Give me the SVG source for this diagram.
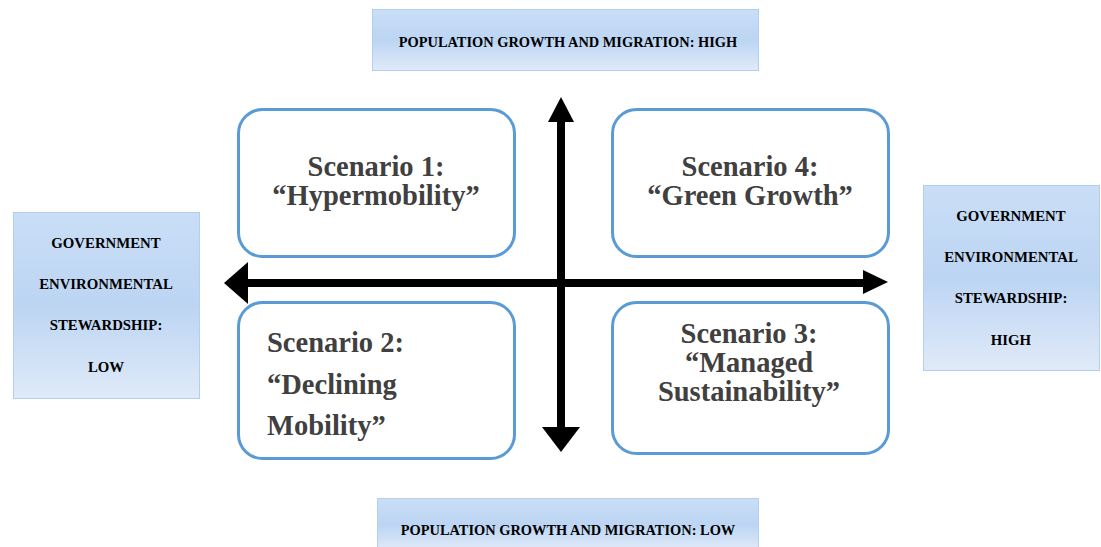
<svg xmlns="http://www.w3.org/2000/svg" width="1101" height="547" viewBox="0 0 1101 547">
<defs>
<linearGradient id="bg" x1="0" y1="0" x2="0" y2="1">
<stop offset="0" stop-color="#cadef6"/>
<stop offset="0.5" stop-color="#bcd5f3"/>
<stop offset="1" stop-color="#e0eaf8"/>
</linearGradient>
<style>
.banner{fill:url(#bg);stroke:#b3cff0;stroke-width:1}
.lbl{font-family:"Liberation Serif","Times New Roman",serif;font-weight:bold;font-size:14.4px;fill:#000;text-anchor:middle}
.side{font-size:14.8px}
.box{fill:#fff;stroke:#5b9bd5;stroke-width:3}
.sc{font-family:"Liberation Serif","Times New Roman",serif;font-weight:bold;font-size:28.5px;fill:#404040;text-anchor:middle}
.st{text-anchor:start}
.arr{fill:#000}
</style>
</defs>
<rect width="1101" height="547" fill="#fff"/>
<g id="top-label">
<rect class="banner" x="372.5" y="9.5" width="386" height="61"/>
<text class="lbl" x="568" y="47">POPULATION GROWTH AND MIGRATION: HIGH</text>
</g>
<g id="bottom-label">
<rect class="banner" x="377.5" y="498.5" width="381" height="52"/>
<text class="lbl" x="568" y="535">POPULATION GROWTH AND MIGRATION: LOW</text>
</g>
<g id="left-label">
<rect class="banner" x="13.5" y="212.5" width="186" height="186"/>
<text class="lbl side" x="106" y="248">GOVERNMENT</text>
<text class="lbl side" x="106" y="289">ENVIRONMENTAL</text>
<text class="lbl side" x="106" y="330">STEWARDSHIP:</text>
<text class="lbl side" x="106" y="372">LOW</text>
</g>
<g id="right-label">
<rect class="banner" x="923.5" y="185.5" width="176" height="185"/>
<text class="lbl side" x="1011" y="221">GOVERNMENT</text>
<text class="lbl side" x="1011" y="262">ENVIRONMENTAL</text>
<text class="lbl side" x="1011" y="303">STEWARDSHIP:</text>
<text class="lbl side" x="1011" y="345">HIGH</text>
</g>
<g id="connectors">
<rect class="arr" x="557" y="118" width="8" height="312"/>
<polygon class="arr" points="561,97 574,122 548,122"/>
<polygon class="arr" points="561,452 580,427 542,427"/>
<rect class="arr" x="245" y="279" width="620" height="8"/>
<polygon class="arr" points="224,283 248,262 248,304"/>
<polygon class="arr" points="888,282 863,270 863,294"/>
</g>
<g id="scenario-1">
<rect class="box" x="238.5" y="109.5" width="276" height="147" rx="24"/>
<text class="sc" x="376" y="176">Scenario 1:</text>
<text class="sc" x="376" y="205">“Hypermobility”</text>
</g>
<g id="scenario-4">
<rect class="box" x="612.5" y="109.5" width="276" height="147" rx="24"/>
<text class="sc" x="750" y="176">Scenario 4:</text>
<text class="sc" x="750" y="205">“Green Growth”</text>
</g>
<g id="scenario-2">
<rect class="box" x="238.5" y="302.5" width="276" height="156" rx="24"/>
<text class="sc st" x="267" y="352">Scenario 2:</text>
<text class="sc st" x="267" y="394">“Declining</text>
<text class="sc st" x="267" y="435">Mobility”</text>
</g>
<g id="scenario-3">
<rect class="box" x="612.5" y="302.5" width="276" height="151" rx="24"/>
<text class="sc" x="749" y="343">Scenario 3:</text>
<text class="sc" x="749" y="372">“Managed</text>
<text class="sc" x="749" y="401">Sustainability”</text>
</g>
</svg>
